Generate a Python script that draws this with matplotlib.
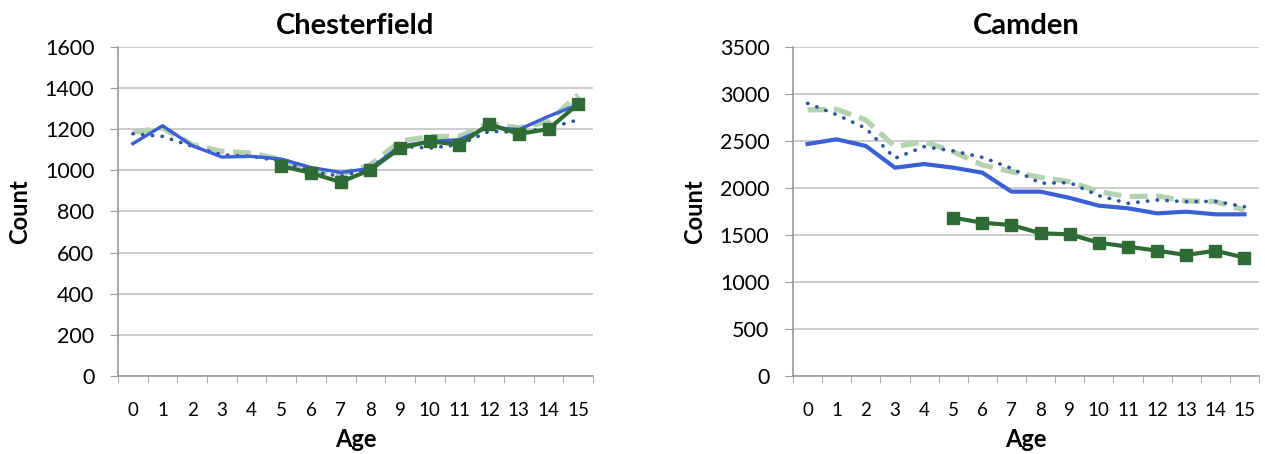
import matplotlib
matplotlib.use("Agg")
import matplotlib.pyplot as plt
from matplotlib.ticker import MultipleLocator
import numpy as np

plt.rcParams['font.family'] = ['Lato', 'DejaVu Sans']

ages = list(range(16))
age_labels = [str(a) for a in ages]

# Chesterfield
ches_solid = [1130, 1217, 1120, 1065, 1068, 1055, 1014, 990, 1010, 1117, 1141, 1149, 1211, 1198, 1263, 1320]
ches_dotted = [1178, 1165, 1117, 1076, 1068, 1044, 995, 971, 1011, 1117, 1108, 1125, 1190, 1185, 1206, 1246]
ches_dashed = [1185, 1206, 1125, 1092, 1084, 1052, 1003, 979, 1027, 1141, 1165, 1165, 1230, 1206, 1238, 1368]
ches_marked = [None] * 5 + [1022, 987, 943, 1003, 1108, 1141, 1125, 1225, 1177, 1201, 1323]

# Camden
camd_solid = [2468, 2518, 2447, 2216, 2255, 2216, 2163, 1961, 1961, 1894, 1812, 1784, 1730, 1748, 1720, 1720]
camd_dotted = [2901, 2780, 2635, 2316, 2440, 2394, 2326, 2209, 2050, 2057, 1918, 1837, 1872, 1855, 1858, 1801]
camd_dashed = [2830, 2837, 2723, 2440, 2493, 2386, 2245, 2174, 2113, 2067, 1961, 1908, 1915, 1862, 1855, 1766]
camd_marked = [None] * 5 + [1684, 1631, 1606, 1518, 1507, 1418, 1376, 1333, 1287, 1333, 1259]

BLUE = '#3a5fd6'
DOT_BLUE = '#2f5597'
LIGHT_GREEN = '#b4d2b0'
DARK_GREEN = '#2e6b35'
GRID = '#c4c4c4'
SPINE = '#9a9a9a'


def to_arr(vals):
    return np.array([np.nan if v is None else v for v in vals], dtype=float)


def draw(ax, title, solid, dotted, dashed, marked, ymax, ystep, solid_lw):
    x = np.array(ages)
    ax.plot(x, to_arr(dashed), color=LIGHT_GREEN, lw=3.8, ls=(0, (3.4, 1.6)),
            solid_capstyle='butt', zorder=3)
    ax.plot(x, to_arr(dotted), color=DOT_BLUE, lw=2.6, ls=(0, (0.1, 2.6)),
            dash_capstyle='round', zorder=4)
    ax.plot(x, to_arr(solid), color=BLUE, lw=solid_lw, zorder=5)
    ax.plot(x, to_arr(marked), color=DARK_GREEN, lw=3.0, marker='s', ms=8,
            mec=DARK_GREEN, mfc=DARK_GREEN, zorder=6)

    ax.set_xlim(-0.5, 15.5)
    ax.set_ylim(0, ymax)
    ax.yaxis.set_major_locator(MultipleLocator(ystep))
    ax.set_xticks(x)
    ax.set_xticklabels(age_labels)
    ax.set_xticks(np.arange(-0.5, 16, 1), minor=True)
    ax.tick_params(axis='x', which='major', length=0, pad=19, labelsize=13.5)
    ax.tick_params(axis='x', which='minor', length=5, direction='out', color=SPINE)
    ax.tick_params(axis='y', which='major', length=6, direction='out', color=SPINE,
                   labelsize=15.5, pad=11)
    ax.grid(axis='y', color=GRID, lw=1.2)
    ax.set_axisbelow(True)
    for side in ('top', 'right'):
        ax.spines[side].set_visible(False)
    for side in ('left', 'bottom'):
        ax.spines[side].set_color(SPINE)
        ax.spines[side].set_linewidth(1.2)
    ax.set_title(title, fontsize=21, fontweight='bold', pad=9)
    ax.set_xlabel('Age', fontsize=17, fontweight='bold', labelpad=6)
    ax.set_ylabel('Count', fontsize=17, fontweight='bold', labelpad=10)


fig = plt.figure(figsize=(12.65, 4.54), dpi=100)
ax1 = fig.add_axes([0.0933, 0.1718, 0.3755, 0.7247])
ax2 = fig.add_axes([0.6269, 0.1718, 0.3684, 0.7247])

draw(ax1, 'Chesterfield', ches_solid, ches_dotted, ches_dashed, ches_marked, 1600, 200, 2.4)
draw(ax2, 'Camden', camd_solid, camd_dotted, camd_dashed, camd_marked, 3500, 500, 3.0)

fig.savefig('out.png', dpi=100)
